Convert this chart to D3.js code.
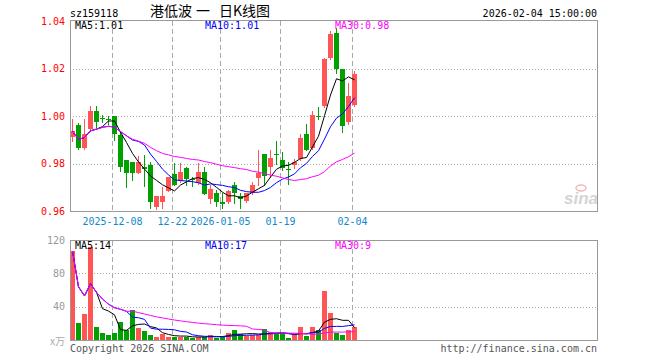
<!DOCTYPE html>
<html>
<head>
<meta charset="utf-8">
<script src="https://cdn.jsdelivr.net/npm/d3@7"></script>
<style>
  body { margin: 0; background: #fff; }
  svg { display: block; }
  text { font-family: "DejaVu Sans Mono", monospace; font-size: 10px; }
</style>
</head>
<body>
<div id="chart"></div>
<script>
// daily bars, 2025-11-27 .. 2026-02-04
const dates = ["2025-11-27","2025-11-28","2025-12-01","2025-12-02","2025-12-03","2025-12-04","2025-12-05",
  "2025-12-08","2025-12-09","2025-12-10","2025-12-11","2025-12-12","2025-12-15","2025-12-16","2025-12-17",
  "2025-12-18","2025-12-19","2025-12-22","2025-12-23","2025-12-24","2025-12-25","2025-12-26","2025-12-29",
  "2025-12-30","2025-12-31","2026-01-05","2026-01-06","2026-01-07","2026-01-08","2026-01-09","2026-01-12",
  "2026-01-13","2026-01-14","2026-01-15","2026-01-16","2026-01-19","2026-01-20","2026-01-21","2026-01-22",
  "2026-01-23","2026-01-26","2026-01-27","2026-01-28","2026-01-29","2026-01-30","2026-02-02","2026-02-03","2026-02-04"];
const open  = [0.9911,0.9964,0.9865,0.9946,1.0022,0.9991,0.9987,1.0000,0.9920,0.9814,0.9807,0.9758,0.9785,0.9795,0.9615,0.9638,
  0.9686,0.9756,0.9728,0.9783,0.9735,0.9720,0.9763,0.9650,0.9675,0.9638,0.9636,0.9710,0.9664,0.9644,0.9675,0.9738,
  0.9839,0.9786,0.9842,0.9814,0.9776,0.9793,0.9817,0.9925,0.9867,1.0002,1.0043,1.0244,1.0349,1.0196,0.9973,1.0047];
const high  = [0.9986,0.9972,0.9986,1.0044,1.0044,1.0006,1.0000,1.0000,0.9935,0.9814,0.9807,0.9832,0.9836,0.9807,0.9665,0.9703,
  0.9744,0.9804,0.9804,0.9785,0.9742,0.9804,0.9785,0.9709,0.9689,0.9675,0.9689,0.9724,0.9675,0.9675,0.9724,0.9856,
  0.9839,0.9856,0.9894,0.9849,0.9807,0.9817,0.9925,0.9967,1.0022,1.0039,1.0244,1.0358,1.0369,1.0196,1.0138,1.0189];
const low   = [0.9893,0.9862,0.9862,0.9939,0.9953,0.9975,0.9966,0.9900,0.9770,0.9700,0.9730,0.9758,0.9706,0.9612,0.9610,0.9612,
  0.9684,0.9710,0.9722,0.9709,0.9705,0.9714,0.9671,0.9633,0.9622,0.9612,0.9633,0.9633,0.9612,0.9640,0.9672,0.9710,
  0.9710,0.9744,0.9800,0.9772,0.9714,0.9783,0.9814,0.9856,0.9862,0.9988,1.0039,1.0242,1.0180,0.9932,0.9966,1.0043];
const close = [0.9936,0.9867,0.9925,1.0022,0.9974,0.9989,0.9985,0.9925,0.9786,0.9758,0.9758,0.9807,0.9775,0.9640,0.9665,0.9665,
  0.9742,0.9711,0.9763,0.9733,0.9733,0.9763,0.9673,0.9693,0.9636,0.9631,0.9686,0.9675,0.9650,0.9675,0.9710,0.9758,
  0.9747,0.9825,0.9838,0.9779,0.9774,0.9807,0.9908,0.9858,1.0004,0.9998,1.0238,1.0344,1.0200,0.9958,1.0084,1.0175];
// volume, 万
const volume = [106.8,20.8,31.2,111.2,16,8.8,6.4,8.8,22,12,36,14.8,11.2,6.4,4,7.6,
  4,4,4,4,3,3.2,4,6,2.8,4.8,8.4,12,7.2,4.8,6,6,
  13.2,9.6,7.2,7.2,2.4,6,15.6,4.8,15.6,12,59,32.6,8.4,6.2,11.8,15.8];

const tickDates  = ["2025-12-08","2025-12-22","2026-01-05","2026-01-19","2026-02-04"];
const tickLabels = ["2025-12-08","12-22","2026-01-05","01-19","02-04"];
const priceTicks = [0.96, 0.98, 1.00, 1.02, 1.04];
const volTicks = [40, 80, 120];
const maPeriods = [5, 10, 30];
const maColors = ["#000000", "#0000ff", "#ff00ff"];
const priceLegend = ["MA5:1.01", "MA10:1.01", "MA30:0.98"];
const volLegend = ["MA5:14", "MA10:17", "MA30:9"];
const titleParts = ["港低波", "一", "日K线图"];

const W = 660, H = 360;
const left = 70, right = 597;
const svg = d3.select("#chart").append("svg").attr("width", W).attr("height", H);

const x = d3.scaleLinear().domain([0, 88]).range([70, 598]);
const y = d3.scaleLinear().domain([0.96, 1.04]).range([211, 21]);
const yv = d3.scaleLinear().domain([0, 120]).range([340, 240]);

const up = "#ff5555", down = "#00a000", gridColor = "#aaaaaa";

function movingAvg(arr, n) {
  return arr.map((d, i) => d3.mean(arr.slice(Math.max(0, i - n + 1), i + 1)));
}

// titles
svg.append("text").attr("x", 70).attr("y", 17).text("sz159118");
svg.append("text").attr("y", 16)
  .style("font-family", "'Noto Sans CJK SC', sans-serif").style("font-size", "14px")
  .selectAll("tspan").data(titleParts).join("tspan")
  .attr("x", (d, k) => [150, 196, 219][k]).text(d => d);
svg.append("text").attr("x", 597).attr("y", 17).attr("text-anchor", "end").text("2026-02-04 15:00:00");

// grid
const tickIdx = tickDates.map(d => dates.indexOf(d));
function grid(yScale, vals, y0, y1) {
  const g = svg.append("g").attr("shape-rendering", "crispEdges");
  g.selectAll("line.h").data(vals).join("line").attr("class", "h")
    .attr("x1", left).attr("x2", right)
    .attr("y1", d => Math.round(yScale(d)) + 0.5).attr("y2", d => Math.round(yScale(d)) + 0.5)
    .attr("stroke", gridColor).attr("stroke-dasharray", "1,2");
  g.selectAll("line.v").data(tickIdx).join("line").attr("class", "v")
    .attr("x1", d => x(d) + 0.5).attr("x2", d => x(d) + 0.5)
    .attr("y1", y0).attr("y2", y1)
    .attr("stroke", gridColor).attr("stroke-dasharray", "5,3");
}
grid(y, [0.98, 1.00, 1.02], 21, 211);
grid(yv, [40, 80], 241, 340);

// watermark
svg.append("text").attr("x", 564).attr("y", 204)
  .style("font-family", "'Liberation Sans', sans-serif").style("font-size", "17px")
  .style("font-weight", "bold").style("font-style", "italic")
  .attr("fill", "#d4d4d4").text("sina");
svg.append("ellipse").attr("cx", 581).attr("cy", 188).attr("rx", 5).attr("ry", 3)
  .attr("fill", "none").attr("stroke", "#f2b8b8").attr("stroke-width", 1.5);

// candles
const candles = svg.append("g").attr("shape-rendering", "crispEdges");
const bars = dates.map((d, i) => ({ i, o: open[i], h: high[i], l: low[i], c: close[i], v: volume[i] }));
candles.selectAll("line").data(bars).join("line")
  .attr("x1", d => x(d.i) + 2.5).attr("x2", d => x(d.i) + 2.5)
  .attr("y1", d => Math.round(y(d.h))).attr("y2", d => Math.round(y(d.l)) + 1)
  .attr("stroke", d => d.c > d.o ? up : down);
candles.selectAll("rect").data(bars).join("rect")
  .attr("x", d => x(d.i)).attr("width", 5)
  .attr("y", d => Math.round(y(Math.max(d.o, d.c))))
  .attr("height", d => Math.max(1, Math.round(y(Math.min(d.o, d.c))) - Math.round(y(Math.max(d.o, d.c)))))
  .attr("fill", d => d.c > d.o ? up : down);

// volume bars
svg.append("g").attr("shape-rendering", "crispEdges")
  .selectAll("rect").data(bars).join("rect")
  .attr("x", d => x(d.i)).attr("width", 5)
  .attr("y", d => Math.round(yv(d.v))).attr("height", d => 340 - Math.round(yv(d.v)))
  .attr("fill", d => d.c > d.o ? up : down);

// moving averages
maPeriods.forEach((n, k) => {
  const pm = movingAvg(close, n), vm = movingAvg(volume, n);
  svg.append("path").datum(pm).attr("fill", "none").attr("stroke", maColors[k]).attr("stroke-width", 1)
    .attr("d", d3.line().x((d, i) => x(i) + 2.5).y(d => y(d)));
  svg.append("path").datum(vm).attr("fill", "none").attr("stroke", maColors[k]).attr("stroke-width", 1)
    .attr("d", d3.line().x((d, i) => x(i) + 2.5).y(d => yv(d)));
});

// frames
svg.append("g").attr("shape-rendering", "crispEdges").selectAll("rect")
  .data([[20.5, 191], [240.5, 100]]).join("rect")
  .attr("x", 70.5).attr("y", d => d[0]).attr("width", 527).attr("height", d => d[1])
  .attr("fill", "none").attr("stroke", "#999");

// axes
const yAxis = svg.append("g").attr("transform", `translate(${left},0)`)
  .call(d3.axisLeft(y).tickValues(priceTicks).tickFormat(d3.format(".2f")).tickSize(0).tickPadding(5));
yAxis.select(".domain").remove();
yAxis.selectAll("text").attr("fill", "#ff0000").style("font-family", "'DejaVu Sans Mono', monospace").style("font-size", "10px");

const vAxis = svg.append("g").attr("transform", `translate(${left},0)`)
  .call(d3.axisLeft(yv).tickValues(volTicks).tickSize(0).tickPadding(5));
vAxis.select(".domain").remove();
vAxis.selectAll("text").attr("fill", "#999").style("font-family", "'DejaVu Sans Mono', monospace").style("font-size", "10px");
svg.append("text").attr("x", 65).attr("y", 345).attr("text-anchor", "end").attr("fill", "#aaa")
  .style("font-family", "'Noto Sans CJK SC', sans-serif").text("x万");

const xAxis = svg.append("g").attr("transform", "translate(0,211)")
  .call(d3.axisBottom(x).tickValues(tickIdx).tickFormat((d, k) => tickLabels[k]).tickSize(0).tickPadding(7));
xAxis.select(".domain").remove();
xAxis.selectAll("text").attr("fill", "#1188cc").style("font-family", "'DejaVu Sans Mono', monospace").style("font-size", "10px");

// legends
[[priceLegend, 29], [volLegend, 249]].forEach(([labels, ly]) => {
  labels.forEach((t, k) => {
    svg.append("text").attr("x", 75 + k * 130).attr("y", ly).attr("fill", maColors[k]).text(t);
  });
});

// footer
svg.append("text").attr("x", 70).attr("y", 352).attr("fill", "#555").text("Copyright 2026 SINA.COM");
svg.append("text").attr("x", 597).attr("y", 352).attr("text-anchor", "end").attr("fill", "#555").text("http://finance.sina.com.cn");
</script>
</body>
</html>
